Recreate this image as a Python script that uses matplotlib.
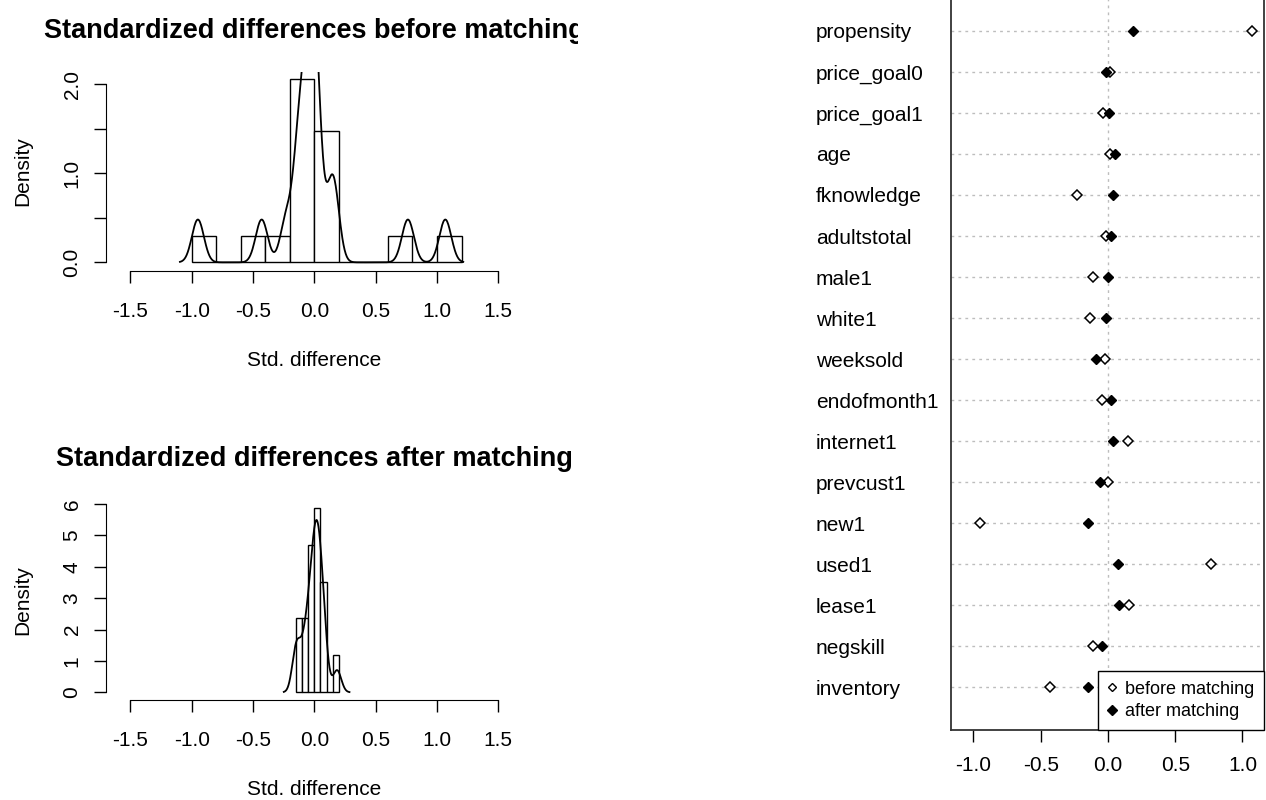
import matplotlib
matplotlib.use("Agg")
import matplotlib.pyplot as plt
import numpy as np
from matplotlib.lines import Line2D
from matplotlib.transforms import Bbox, TransformedBbox

plt.rcParams['font.family'] = ['Liberation Sans', 'DejaVu Sans']

# data: standardized differences per covariate
covariates = ['propensity', 'price_goal0', 'price_goal1', 'age', 'fknowledge',
              'adultstotal', 'male1', 'white1', 'weeksold', 'endofmonth1',
              'internet1', 'prevcust1', 'new1', 'used1', 'lease1', 'negskill',
              'inventory']
before = [1.068, 0.017, -0.040, 0.015, -0.228, -0.015, -0.111, -0.131, -0.022,
          -0.047, 0.146, 0.003, -0.949, 0.763, 0.156, -0.111, -0.429]
after = [0.186, -0.017, 0.007, 0.053, 0.037, 0.020, -0.003, -0.015, -0.092,
         0.020, 0.040, -0.060, -0.148, 0.072, 0.082, -0.048, -0.145]

before_breaks = [-1.0, -0.8, -0.6, -0.4, -0.2, 0.0, 0.2, 0.4, 0.6, 0.8, 1.0, 1.2]
after_breaks = [-0.15, -0.10, -0.05, 0.0, 0.05, 0.10, 0.15, 0.20]
hist_xticks = [-1.5, -1.0, -0.5, 0.0, 0.5, 1.0, 1.5]
dot_xticks = [-1.0, -0.5, 0.0, 0.5, 1.0]

FS = 15


def kde_nrd0(values):
    # gaussian kernel density, R default bandwidth (bw.nrd0)
    v = np.asarray(values, dtype=float)
    n = len(v)
    q1, q3 = np.percentile(v, [25, 75])
    bw = 0.9 * min(v.std(ddof=1), (q3 - q1) / 1.34) * n ** -0.2
    grid = np.linspace(v.min() - 3 * bw, v.max() + 3 * bw, 512)
    z = (grid[:, None] - v[None, :]) / bw
    dens = np.exp(-0.5 * z ** 2).sum(axis=1) / (n * bw * np.sqrt(2 * np.pi))
    return grid, dens


def hist_panel(fig, rect, vals, breaks, ylim, yticks, ylabels, title):
    ax = fig.add_axes(rect)
    ax.hist(vals, bins=breaks, density=True, facecolor='white',
            edgecolor='black', linewidth=1.0)
    gx, gy = kde_nrd0(vals)
    ax.plot(gx, gy, color='black', lw=1.3)
    ax.set_xlim(-1.698, 1.698)
    ax.set_ylim(*ylim)
    for s in ['top', 'right']:
        ax.spines[s].set_visible(False)
    ax.spines['bottom'].set_bounds(hist_xticks[0], hist_xticks[-1])
    ax.spines['left'].set_bounds(yticks[0], yticks[-1])
    ax.set_xticks(hist_xticks, [f'{t:.1f}' for t in hist_xticks], fontsize=FS)
    ax.set_yticks(yticks, ylabels, rotation=90, va='center', fontsize=FS)
    ax.tick_params(length=8.6, width=1.0)
    ax.tick_params(axis='x', pad=13.7)
    ax.tick_params(axis='y', pad=9)
    ax.set_xlabel('Std. difference', fontsize=FS, labelpad=21.6)
    ax.set_ylabel('Density', fontsize=FS, labelpad=22)
    t = ax.set_title(title, fontsize=19.5, fontweight='bold', pad=24.5)
    return ax, t


fig = plt.figure(figsize=(12.66, 8), dpi=100)

ax1, t1 = hist_panel(fig, [106 / 1266, 1 - 270.7 / 800, 416.6 / 1266, 198.8 / 800],
                     before, before_breaks, (-0.094, 2.14),
                     [0, 0.5, 1.0, 1.5, 2.0], ['0.0', '', '1.0', '', '2.0'],
                     'Standardized differences before matching')
# the source screenshot cuts the top title off on the right
t1.set_clip_box(TransformedBbox(Bbox([[0, 0], [578 / 1266, 1]]), fig.transFigure))
t1.set_clip_on(True)

ax2, t2 = hist_panel(fig, [106 / 1266, 1 - 700 / 800, 416.6 / 1266, 199.7 / 800],
                     after, after_breaks, (-0.245, 6.12),
                     [0, 1, 2, 3, 4, 5, 6], ['0', '1', '2', '3', '4', '5', '6'],
                     'Standardized differences after matching')

# dot chart
ax3 = fig.add_axes([951 / 1266, 70 / 800, 313 / 1266, 741 / 800])
ypos = np.arange(len(covariates), 0, -1)
for y in ypos:
    ax3.axhline(y, color='#bdbdbd', lw=1.0, ls=(0, (2, 3)), zorder=1)
ax3.axvline(0, color='#bdbdbd', lw=1.0, ls=(0, (2, 3)), zorder=1)
ax3.plot(before, ypos, ls='none', marker='D', ms=5.0, mfc='white', mec='black',
         mew=1.1, zorder=3)
ax3.plot(after, ypos, ls='none', marker='D', ms=5.3, mfc='black', mec='black',
         mew=1.0, zorder=4)
ax3.set_xlim(-1.167, 1.160)
ax3.set_ylim(-0.04, 18.02)
ax3.set_xticks(dot_xticks, [f'{t:.1f}' for t in dot_xticks], fontsize=FS)
ax3.set_yticks(ypos, covariates, fontsize=FS, ha='left', va='center_baseline')
ax3.tick_params(axis='y', length=0, pad=97.2)
ax3.tick_params(axis='x', length=8.6, width=1.0, pad=10)
for s in ax3.spines.values():
    s.set_linewidth(1.3)
    s.set_color('#333333')

handles = [Line2D([], [], ls='none', marker='D', ms=4.4, mfc='white', mec='black', mew=1.0),
           Line2D([], [], ls='none', marker='D', ms=4.6, mfc='black', mec='black', mew=1.0)]
leg = ax3.legend(handles, ['before matching', 'after matching'], loc='lower right',
                 fontsize=13, frameon=True, fancybox=False, framealpha=1,
                 edgecolor='black', borderaxespad=0, handlelength=0.5,
                 handletextpad=0.45, labelspacing=0.3, borderpad=0.55)
leg.get_frame().set_linewidth(1.0)

fig.savefig('out.png', dpi=100)
